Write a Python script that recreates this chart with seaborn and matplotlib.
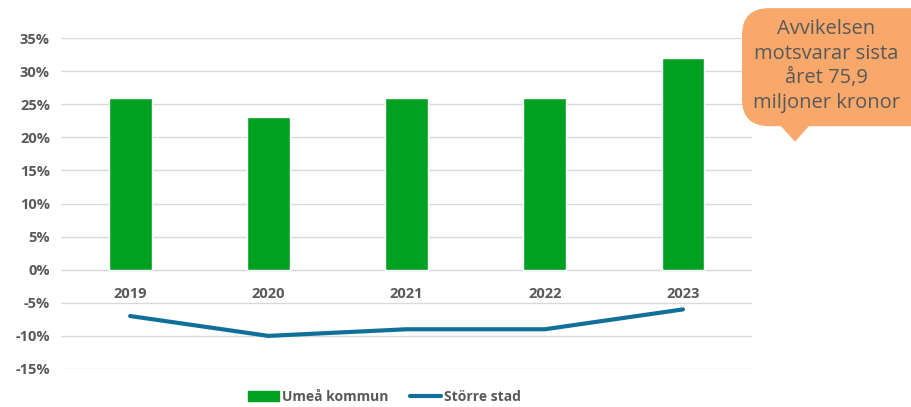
import numpy as np
import pandas as pd
import matplotlib
matplotlib.use("Agg")
import matplotlib.pyplot as plt
import seaborn as sns
from matplotlib.patches import FancyBboxPatch, Polygon, Patch
from matplotlib.lines import Line2D

# data
years = ["2019", "2020", "2021", "2022", "2023"]
umea_kommun = [0.26, 0.23, 0.26, 0.26, 0.32]
storre_stad = [-0.07, -0.10, -0.09, -0.09, -0.06]
yticks = [-0.15, -0.10, -0.05, 0.0, 0.05, 0.10, 0.15, 0.20, 0.25, 0.30, 0.35]
callout_text = "Avvikelsen\nmotsvarar sista\nåret 75,9\nmiljoner kronor"

green = "#00A020"
blue = "#10709A"
gray = "#595959"

sns.set_style("white")
plt.rcParams["font.family"] = ["Open Sans", "DejaVu Sans"]

fig = plt.figure(figsize=(9.11, 4.07), dpi=100)
ax = fig.add_axes([0.067, 0.0934, 0.7585, 0.8132])

df = pd.DataFrame({"year": years, "umea": umea_kommun, "stad": storre_stad})
sns.barplot(data=df, x="year", y="umea", color=green, width=0.31,
            saturation=1, ax=ax, zorder=3)
sns.lineplot(x=np.arange(len(years)), y=storre_stad, color=blue, lw=3,
             ax=ax, zorder=4)

ax.set_xlim(-0.5, len(years) - 0.5)
ax.set_ylim(-0.15, 0.35)
ax.set_yticks(yticks)
ax.set_yticklabels([f"{round(v*100)}%" for v in yticks], fontsize=10.5,
                   fontweight="bold", color=gray)
ax.tick_params(axis="y", length=0, pad=8)
ax.set_xticks([])
ax.set_xlabel("")
ax.set_ylabel("")
ax.grid(axis="y", color="#D9D9D9", lw=1, zorder=0)
for s in ax.spines.values():
    s.set_visible(False)

# year labels just under the zero line
for i, y in enumerate(years):
    ax.text(i, -0.036, y, ha="center", va="center", fontsize=10.5,
            fontweight="bold", color=gray)

# legend
handles = [Patch(color=green, label="Umeå kommun"),
           Line2D([0], [0], color=blue, lw=3, label="Större stad")]
fig.legend(handles=handles, loc="center", bbox_to_anchor=(0.422, 0.025),
           ncol=2, frameon=False, prop={"weight": "bold", "size": 10},
           labelcolor=gray, handlelength=2.2, handletextpad=0.2,
           columnspacing=1.6)

# callout box
box = FancyBboxPatch((0.8145, 0.69), 0.22, 0.29,
                     boxstyle="round,pad=0,rounding_size=0.03",
                     transform=fig.transFigure, facecolor="#F9A86C",
                     edgecolor="none", clip_on=False, mutation_aspect=2.2)
fig.patches.append(box)
tri = Polygon([(0.856, 0.693), (0.889, 0.693), (0.8727, 0.652)],
              closed=True, transform=fig.transFigure, facecolor="#F9A86C",
              edgecolor="none")
fig.patches.append(tri)
fig.text(0.907, 0.838, callout_text, ha="center", va="center", fontsize=14.5,
         color=gray, linespacing=1.3)

fig.savefig("out.png", dpi=100)
